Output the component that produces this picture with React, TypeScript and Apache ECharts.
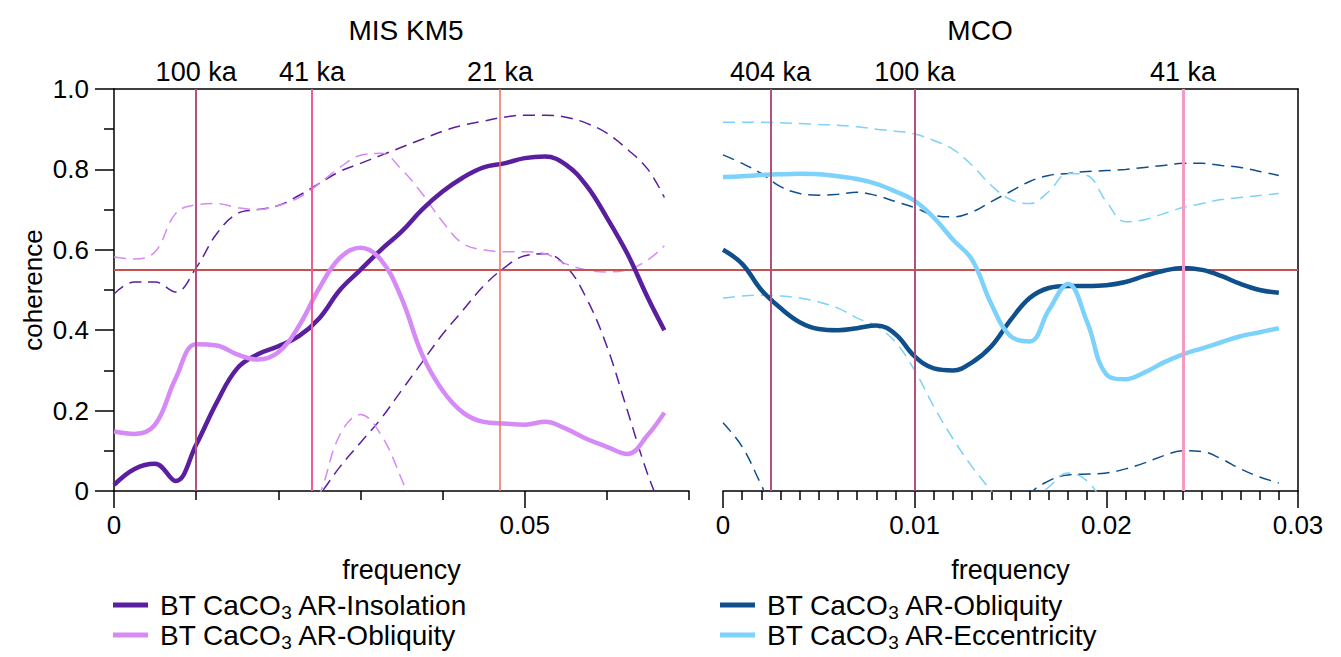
import React, { useEffect, useRef } from 'react';
import * as echarts from 'echarts';

// ---------- data ----------
const KM5_FREQ = [0, 0.0025, 0.005, 0.0075, 0.01, 0.0125, 0.015, 0.0175, 0.02, 0.0225, 0.025, 0.0275, 0.03, 0.0325, 0.035, 0.0375, 0.04, 0.0425, 0.045, 0.0475, 0.05, 0.0525, 0.055, 0.0575, 0.06, 0.0625, 0.065, 0.067];
const KM5_INSOL = [0.015, 0.055, 0.068, 0.025, 0.115, 0.22, 0.305, 0.34, 0.36, 0.385, 0.43, 0.5, 0.55, 0.6, 0.645, 0.7, 0.745, 0.78, 0.805, 0.815, 0.828, 0.832, 0.812, 0.76, 0.68, 0.59, 0.48, 0.4];
const KM5_INSOL_HI = [0.49, 0.52, 0.52, 0.495, 0.555, 0.64, 0.69, 0.7, 0.71, 0.735, 0.765, 0.795, 0.815, 0.835, 0.855, 0.875, 0.895, 0.91, 0.92, 0.93, 0.935, 0.935, 0.93, 0.915, 0.89, 0.85, 0.8, 0.73];
const KM5_INSOL_LO = [null, null, null, null, null, null, null, null, null, -0.07, -0.01, 0.06, 0.12, 0.18, 0.25, 0.32, 0.39, 0.45, 0.51, 0.555, 0.585, 0.59, 0.56, 0.48, 0.36, 0.2, 0.04, -0.06];
const KM5_OBL = [0.148, 0.142, 0.165, 0.28, 0.365, 0.362, 0.34, 0.327, 0.345, 0.41, 0.505, 0.58, 0.605, 0.575, 0.48, 0.34, 0.25, 0.195, 0.172, 0.168, 0.165, 0.172, 0.155, 0.13, 0.11, 0.092, 0.14, 0.195];
const KM5_OBL_HI = [0.582, 0.577, 0.595, 0.69, 0.712, 0.715, 0.705, 0.7, 0.71, 0.73, 0.765, 0.805, 0.835, 0.84, 0.8, 0.74, 0.67, 0.615, 0.6, 0.595, 0.595, 0.59, 0.565, 0.55, 0.545, 0.55, 0.575, 0.61];
const KM5_OBL_LO = [null, null, null, null, null, null, null, null, null, -0.1, -0.01, 0.14, 0.19, 0.14, 0.03, -0.1, null, null, null, null, null, null, null, null, null, null, null, null];

const MCO_FREQ = [0, 0.001, 0.002, 0.003, 0.004, 0.005, 0.006, 0.007, 0.008, 0.009, 0.01, 0.011, 0.012, 0.013, 0.014, 0.015, 0.016, 0.017, 0.018, 0.019, 0.02, 0.021, 0.022, 0.023, 0.024, 0.025, 0.026, 0.027, 0.028, 0.029];
const MCO_OBL = [0.6, 0.565, 0.5, 0.455, 0.42, 0.403, 0.4, 0.405, 0.412, 0.39, 0.335, 0.305, 0.3, 0.32, 0.36, 0.425, 0.48, 0.505, 0.51, 0.51, 0.512, 0.52, 0.535, 0.548, 0.555, 0.55, 0.535, 0.515, 0.5, 0.493];
const MCO_OBL_HI = [0.836, 0.815, 0.79, 0.757, 0.74, 0.736, 0.738, 0.743, 0.735, 0.72, 0.705, 0.686, 0.682, 0.694, 0.72, 0.745, 0.77, 0.785, 0.79, 0.795, 0.797, 0.8, 0.805, 0.81, 0.815, 0.815, 0.81, 0.805, 0.795, 0.785];
const MCO_OBL_LO = [0.17, 0.11, 0.015, -0.08, null, null, null, null, null, null, null, null, null, null, null, -0.12, -0.01, 0.025, 0.04, 0.042, 0.045, 0.055, 0.07, 0.088, 0.1, 0.098, 0.08, 0.055, 0.035, 0.02];
const MCO_ECC = [0.781, 0.783, 0.786, 0.788, 0.789, 0.788, 0.783, 0.776, 0.764, 0.745, 0.722, 0.68, 0.625, 0.575, 0.465, 0.385, 0.372, 0.45, 0.515, 0.42, 0.29, 0.278, 0.295, 0.32, 0.34, 0.355, 0.37, 0.385, 0.395, 0.405];
const MCO_ECC_HI = [0.917, 0.917, 0.917, 0.916, 0.914, 0.912, 0.91, 0.906, 0.9, 0.895, 0.888, 0.872, 0.85, 0.81, 0.76, 0.725, 0.715, 0.745, 0.79, 0.785, 0.72, 0.67, 0.675, 0.69, 0.705, 0.715, 0.725, 0.73, 0.735, 0.74];
const MCO_ECC_LO = [0.48, 0.485, 0.487, 0.485, 0.48, 0.47, 0.455, 0.43, 0.41, 0.37, 0.3, 0.21, 0.13, 0.06, 0.0, -0.06, -0.03, 0.01, 0.045, 0.025, -0.04, -0.1, null, null, null, null, null, null, null, null];

const THRESHOLD = 0.55;

const KM5_PERIODS = ['100 ka', '41 ka', '21 ka'];
const KM5_PERIOD_FREQ = [0.01, 0.0241, 0.047];
const MCO_PERIODS = ['404 ka', '100 ka', '41 ka'];
const MCO_PERIOD_FREQ = [0.00248, 0.01, 0.024];

const KM5_MINOR_TICKS = [0.01, 0.02, 0.03, 0.04, 0.06, 0.07];
const KM5_MAJOR_TICKS = [0, 0.05];

const LEGEND_LABELS: Record<string, string> = {
  'KM5 Insolation': 'BT CaCO{sub|3} AR-Insolation',
  'KM5 Obliquity': 'BT CaCO{sub|3} AR-Obliquity',
  'MCO Obliquity': 'BT CaCO{sub|3} AR-Obliquity',
  'MCO Eccentricity': 'BT CaCO{sub|3} AR-Eccentricity',
};

// ---------- styles ----------
const FONT = '"Liberation Sans", Arial, Helvetica, sans-serif';
const FS = 26;
const FS_BIG = 28;
const C_INSOL = '#5a1f9e';
const C_OBL_L = '#d58af5';
const C_OBL_R = '#0f4f8b';
const C_ECC = '#7cd2fa';
const KM5_PERIOD_COLORS = ['#b2507e', '#f05b98', '#f36c60'];
const KM5_PERIOD_WIDTHS = [2, 2, 1.5];
const MCO_PERIOD_COLORS = ['#b2507e', '#b2507e', '#f59ac2'];
const MCO_PERIOD_WIDTHS = [2, 2, 3];

function pts(freq: number[], vals: (number | null)[]) {
  const out: number[][] = [];
  freq.forEach((f, i) => {
    const v = vals[i];
    if (v !== null && v !== undefined) out.push([f, v]);
  });
  return out;
}

export default function App() {
  const ref = useRef<HTMLDivElement>(null);
  useEffect(() => {
    if (!ref.current) return;
    const chart = echarts.init(ref.current, null, { renderer: 'svg' });
    const black = '#000';
    const axisLine = { show: true, onZero: false, lineStyle: { color: black, width: 1.5 } };
    const tickStyle = { color: black, width: 1.5 };
    const labelText = { fontSize: FS, color: black, fontFamily: FONT };
    const nameText = { fontSize: 27, color: black, fontFamily: FONT };

    const dashed = (name: string, xi: number, yi: number, freq: number[], vals: (number | null)[], color: string, extra: any = {}) => ({
      name, type: 'line', xAxisIndex: xi, yAxisIndex: yi,
      data: pts(freq, vals), symbol: 'none', showSymbol: false, smooth: 0.4,
      lineStyle: { color, width: 1.5, type: [12, 7] }, z: 2, silent: true, ...extra,
    });
    const solid = (name: string, xi: number, yi: number, freq: number[], vals: number[], color: string) => ({
      name, type: 'line', xAxisIndex: xi, yAxisIndex: yi,
      data: pts(freq, vals), symbol: 'none', showSymbol: false, smooth: 0.4,
      itemStyle: { color }, lineStyle: { color, width: 4.5 }, z: 4, silent: true,
    });

    const vlines = (names: string[], freqs: number[], colors: string[], widths: number[]) => ({
      silent: true, symbol: 'none', precision: 6,
      label: { show: true, position: 'end', formatter: '{b}', fontSize: 27, color: black, fontFamily: FONT, distance: 4 },
      data: names.map((n, i) => ({ name: n, xAxis: freqs[i], lineStyle: { color: colors[i], width: widths[i], type: 'solid' } })),
    });

    const legendItem = (name: string, left: number, top: number) => ({
      orient: 'vertical', icon: 'rect', itemWidth: 35, itemHeight: 5, padding: 0,
      left, top, data: [name],
      formatter: (n: string) => LEGEND_LABELS[n],
      textStyle: {
        fontSize: FS_BIG, color: black, fontFamily: FONT, lineHeight: 28, padding: [0, 0, 0, 7],
        rich: { sub: { fontSize: 19, fontFamily: FONT, color: black, padding: [15, 0, 0, 0] } },
      },
    });

    chart.setOption({
      animation: false,
      textStyle: { fontFamily: FONT },
      title: [
        { text: 'MIS KM5', left: 401, top: 11, textAlign: 'center', textStyle: { fontSize: FS_BIG, color: black, fontFamily: FONT, fontWeight: 'normal' } },
        { text: 'MCO', left: 975, top: 11, textAlign: 'center', textStyle: { fontSize: FS_BIG, color: black, fontFamily: FONT, fontWeight: 'normal' } },
      ],
      legend: [
        legendItem('KM5 Insolation', 113, 591),
        legendItem('KM5 Obliquity', 113, 621),
        legendItem('MCO Obliquity', 720, 591),
        legendItem('MCO Eccentricity', 720, 621),
      ],
      grid: [
        { left: 114, top: 89, width: 575, height: 402 },
        { left: 723, top: 89, width: 575, height: 402 },
        { left: 114, top: 89, width: 1184, height: 402 },
      ],
      xAxis: [
        {
          gridIndex: 0, type: 'value', min: 0, max: 0.07, position: 'bottom',
          axisLine, splitLine: { show: false },
          axisTick: { show: true, customValues: KM5_MINOR_TICKS, length: 9, lineStyle: tickStyle },
          axisLabel: { show: false },
        },
        {
          gridIndex: 0, type: 'value', min: 0, max: 0.07, position: 'bottom',
          axisLine: { show: false, onZero: false }, splitLine: { show: false },
          axisTick: { show: true, customValues: KM5_MAJOR_TICKS, length: 17, lineStyle: tickStyle },
          axisLabel: { show: true, customValues: KM5_MAJOR_TICKS, margin: 21, ...labelText, formatter: (v: number) => (v === 0 ? '0' : String(v)) },
          name: 'frequency', nameLocation: 'middle', nameGap: 65, nameTextStyle: nameText,
        },
        {
          gridIndex: 1, type: 'value', min: 0, max: 0.03, interval: 0.01, position: 'bottom',
          axisLine, splitLine: { show: false },
          axisTick: { show: true, length: 17, lineStyle: tickStyle },
          minorTick: { show: true, splitNumber: 10, length: 9, lineStyle: tickStyle },
          minorSplitLine: { show: false },
          axisLabel: { show: true, margin: 21, ...labelText, formatter: (v: number) => (v === 0 ? '0' : v.toFixed(2)) },
          name: 'frequency', nameLocation: 'middle', nameGap: 65, nameTextStyle: nameText,
        },
        {
          gridIndex: 2, type: 'value', min: 0, max: 1, position: 'top',
          axisLine, axisTick: { show: false }, axisLabel: { show: false }, splitLine: { show: false },
        },
      ],
      yAxis: [
        {
          gridIndex: 0, type: 'value', min: 0, max: 1, interval: 0.2, position: 'left',
          axisLine, splitLine: { show: false },
          axisTick: { show: true, length: 19, lineStyle: tickStyle },
          minorTick: { show: true, splitNumber: 2, length: 10, lineStyle: tickStyle },
          minorSplitLine: { show: false },
          axisLabel: { show: true, margin: 25, ...labelText, formatter: (v: number) => (v === 0 ? '0' : v.toFixed(1)) },
          name: 'coherence', nameLocation: 'middle', nameGap: 68, nameRotate: 90, nameTextStyle: labelText,
        },
        {
          gridIndex: 1, type: 'value', min: 0, max: 1, position: 'right',
          axisLine, axisTick: { show: false }, axisLabel: { show: false }, splitLine: { show: false },
        },
        {
          gridIndex: 2, type: 'value', min: 0, max: 1, show: false,
        },
      ],
      series: [
        dashed('KM5 Insolation upper', 0, 0, KM5_FREQ, KM5_INSOL_HI, C_INSOL, {
          markLine: vlines(KM5_PERIODS, KM5_PERIOD_FREQ, KM5_PERIOD_COLORS, KM5_PERIOD_WIDTHS),
        }),
        dashed('KM5 Insolation lower', 0, 0, KM5_FREQ, KM5_INSOL_LO, C_INSOL),
        dashed('KM5 Obliquity upper', 0, 0, KM5_FREQ, KM5_OBL_HI, C_OBL_L),
        dashed('KM5 Obliquity lower', 0, 0, KM5_FREQ, KM5_OBL_LO, C_OBL_L),
        dashed('MCO Obliquity upper', 2, 1, MCO_FREQ, MCO_OBL_HI, C_OBL_R, {
          markLine: vlines(MCO_PERIODS, MCO_PERIOD_FREQ, MCO_PERIOD_COLORS, MCO_PERIOD_WIDTHS),
        }),
        dashed('MCO Obliquity lower', 2, 1, MCO_FREQ, MCO_OBL_LO, C_OBL_R),
        dashed('MCO Eccentricity upper', 2, 1, MCO_FREQ, MCO_ECC_HI, C_ECC),
        dashed('MCO Eccentricity lower', 2, 1, MCO_FREQ, MCO_ECC_LO, C_ECC),
        {
          name: 'threshold', type: 'line', xAxisIndex: 3, yAxisIndex: 2,
          data: [[0, THRESHOLD], [1, THRESHOLD]], symbol: 'none', silent: true,
          lineStyle: { color: '#c8504f', width: 2 }, z: 3,
        },
        solid('KM5 Insolation', 0, 0, KM5_FREQ, KM5_INSOL, C_INSOL),
        solid('KM5 Obliquity', 0, 0, KM5_FREQ, KM5_OBL, C_OBL_L),
        solid('MCO Obliquity', 2, 1, MCO_FREQ, MCO_OBL, C_OBL_R),
        solid('MCO Eccentricity', 2, 1, MCO_FREQ, MCO_ECC, C_ECC),
      ],
    });
    return () => chart.dispose();
  }, []);
  return <div ref={ref} style={{ position: 'absolute', left: 0, top: 0, width: 1341, height: 657, background: '#fff' }} />;
}
